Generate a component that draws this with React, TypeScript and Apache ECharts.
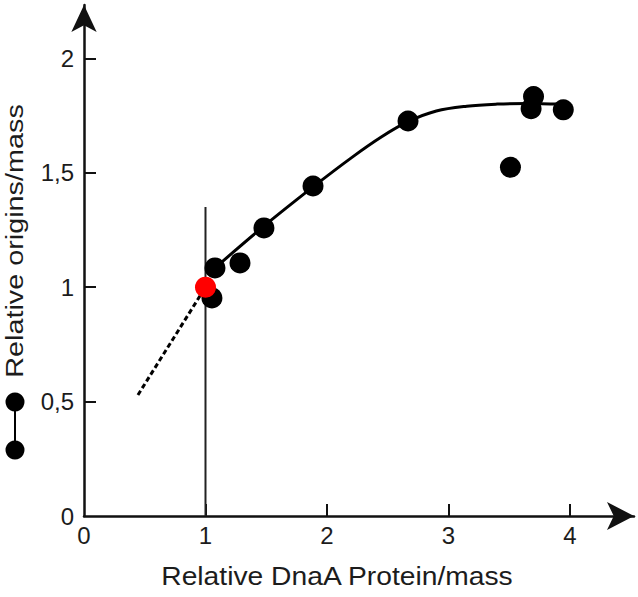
import React, { useEffect, useRef } from "react";
import * as echarts from "echarts";

const xTickValues = [1, 2, 3, 4];
const xLabelValues = [0, 1, 2, 3, 4];
const yTickValues = [0.5, 1, 1.5, 2];
const yLabelValues = [0, 0.5, 1, 1.5, 2];
const measuredX = [1.053, 1.078, 1.284, 1.481, 1.885, 2.667, 3.51, 3.68, 3.7, 3.945];
const measuredY = [0.953, 1.084, 1.106, 1.259, 1.442, 1.726, 1.524, 1.78, 1.833, 1.775];
const referenceX = [1];
const referenceY = [1];
const fitX = [1.07, 1.47, 1.885, 2.2, 2.45, 2.67, 2.9, 3.15, 3.4, 3.65, 3.92];
const fitY = [1.08, 1.262, 1.438, 1.565, 1.657, 1.724, 1.77, 1.791, 1.8, 1.803, 1.8];
const extrapX = [0.444, 1.0];
const extrapY = [0.529, 1.0];
const markerX = [1, 1];
const markerY = [0, 1.35];

const zip = (a: number[], b: number[]) => a.map((v, i) => [v, b[i]]);

const TEXT = "#1c1c1c";
const FONT = "Liberation Sans, Arial, sans-serif";

export default function App() {
  const ref = useRef<HTMLDivElement>(null);
  useEffect(() => {
    if (!ref.current) return;
    const chart = echarts.init(ref.current, undefined, { renderer: "svg" });
    chart.setOption({
      animation: false,
      backgroundColor: "#ffffff",
      grid: { left: 84, top: 5, right: 4, bottom: 81, containLabel: false },
      xAxis: {
        type: "value",
        min: 0,
        max: 4.527,
        interval: 1,
        splitLine: { show: false },
        axisLine: {
          show: true,
          symbol: ["none", "arrow"],
          symbolSize: [21, 27],
          lineStyle: { color: "#111", width: 2.5 },
        },
        axisTick: { show: true, inside: true, length: 12, customValues: xTickValues, lineStyle: { color: "#111", width: 2 } },
        axisLabel: {
          customValues: xLabelValues,
          margin: 7,
          color: TEXT,
          fontSize: 24,
          fontFamily: FONT,
          formatter: (v: number) => String(v),
        },
      },
      yAxis: {
        type: "value",
        min: 0,
        max: 2.233,
        interval: 0.5,
        splitLine: { show: false },
        axisLine: {
          show: true,
          symbol: ["none", "arrow"],
          symbolSize: [19, 27],
          lineStyle: { color: "#111", width: 2.5 },
        },
        axisTick: { show: true, inside: true, length: 12, customValues: yTickValues, lineStyle: { color: "#111", width: 2 } },
        axisLabel: {
          customValues: yLabelValues,
          margin: 10,
          color: TEXT,
          fontSize: 24,
          fontFamily: FONT,
          formatter: (v: number) => String(v).replace(".", ","),
        },
      },
      graphic: [
        {
          type: "text",
          x: 337,
          y: 577,
          scaleX: 1.13,
          style: { text: "Relative DnaA Protein/mass", fill: TEXT, font: `25px ${FONT}`, align: "center", verticalAlign: "middle" },
        },
        {
          type: "text",
          x: 15,
          y: 241,
          rotation: Math.PI / 2,
          scaleX: 1.2,
          style: { text: "Relative origins/mass", fill: TEXT, font: `24px ${FONT}`, align: "center", verticalAlign: "middle" },
        },
        { type: "line", shape: { x1: 15, y1: 402, x2: 15, y2: 450 }, style: { stroke: "#000", lineWidth: 2 } },
        { type: "circle", shape: { cx: 15, cy: 402, r: 9.5 }, style: { fill: "#000" } },
        { type: "circle", shape: { cx: 15, cy: 450, r: 9.5 }, style: { fill: "#000" } },
      ],
      series: [
        {
          type: "line",
          data: zip(markerX, markerY),
          showSymbol: false,
          lineStyle: { color: "#222", width: 2 },
          z: 1,
        },
        {
          type: "line",
          data: zip(extrapX, extrapY),
          showSymbol: false,
          lineStyle: { color: "#000", width: 3, type: [5, 3] },
          z: 2,
        },
        {
          type: "line",
          data: zip(fitX, fitY),
          smooth: 0.35,
          showSymbol: false,
          lineStyle: { color: "#000", width: 3 },
          z: 2,
        },
        {
          type: "scatter",
          data: zip(measuredX, measuredY),
          symbolSize: 21,
          itemStyle: { color: "#000", opacity: 1 },
          z: 3,
        },
        {
          type: "scatter",
          data: zip(referenceX, referenceY),
          symbolSize: 21,
          itemStyle: { color: "#ff0000", opacity: 1 },
          z: 4,
        },
      ],
    });
    return () => chart.dispose();
  }, []);
  return <div ref={ref} style={{ position: "fixed", left: 0, top: 0, width: 638, height: 597 }} />;
}
